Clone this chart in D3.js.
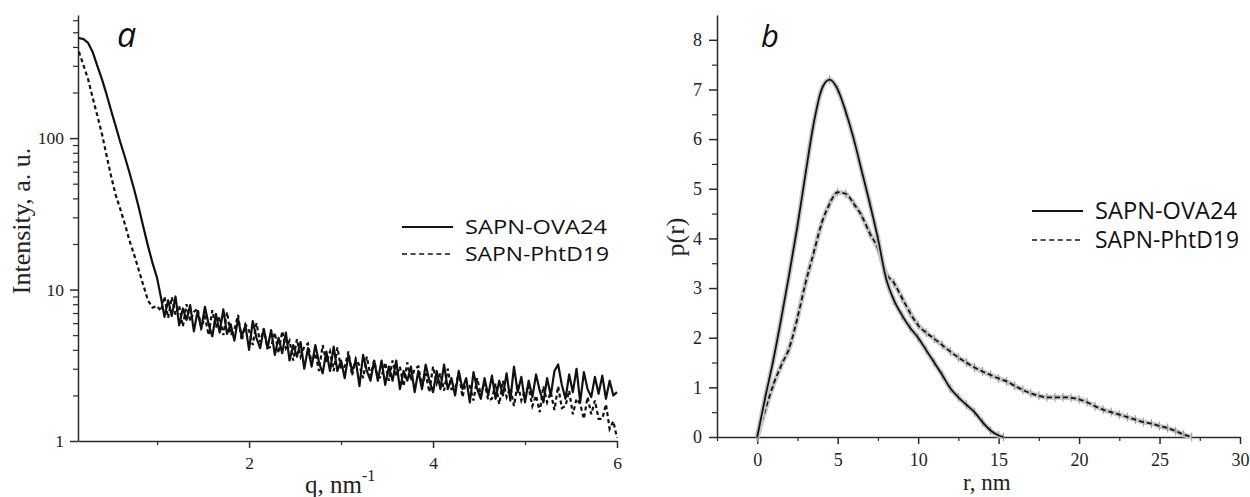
<!DOCTYPE html>
<html>
<head>
<meta charset="utf-8">
<script src="https://cdn.jsdelivr.net/npm/d3@7.9.0/dist/d3.min.js"></script>
<style>
    html, body { margin: 0; padding: 0; background: #fff; }
    svg { display: block; }
    .tick text { font-family: "Liberation Serif", "Times New Roman", serif; fill: #222; }
    .serif { font-family: "Liberation Serif", "Times New Roman", serif; fill: #222; }
    .sans { font-family: "Open Sans", "Noto Sans", sans-serif; fill: #111; }
</style>
</head>
<body>
<svg id="chart" width="1250" height="497"></svg>
<script>
// panel a: SAXS intensity vs q (log scale)
var qA = [0.15, 0.20, 0.25, 0.30, 0.35, 0.40, 0.45, 0.50, 0.55, 0.60, 0.65, 0.70, 0.75, 0.80, 0.85, 0.90, 0.95, 1.00,
    1.04, 1.08, 1.12, 1.16, 1.20, 1.24, 1.28, 1.32, 1.36, 1.40,
    1.44, 1.48, 1.52, 1.56, 1.60, 1.64, 1.68, 1.72, 1.76, 1.80,
    1.84, 1.88, 1.92, 1.96, 2.00, 2.04, 2.08, 2.12, 2.16, 2.20,
    2.24, 2.28, 2.32, 2.36, 2.40, 2.44, 2.48, 2.52, 2.56, 2.60,
    2.64, 2.68, 2.72, 2.76, 2.80, 2.84, 2.88, 2.92, 2.96, 3.00,
    3.04, 3.08, 3.12, 3.16, 3.20, 3.24, 3.28, 3.32, 3.36, 3.40,
    3.44, 3.48, 3.52, 3.56, 3.60, 3.64, 3.68, 3.72, 3.76, 3.80,
    3.84, 3.88, 3.92, 3.96, 4.00, 4.04, 4.08, 4.12, 4.16, 4.20,
    4.24, 4.28, 4.32, 4.36, 4.40, 4.44, 4.48, 4.52, 4.56, 4.60,
    4.64, 4.68, 4.72, 4.76, 4.80, 4.84, 4.88, 4.92, 4.96, 5.00,
    5.04, 5.08, 5.12, 5.16, 5.20, 5.24, 5.28, 5.32, 5.36, 5.40,
    5.44, 5.48, 5.52, 5.56, 5.60, 5.64, 5.68, 5.72, 5.76, 5.80,
    5.84, 5.88, 5.92, 5.96, 6.00]
var iOva = [458, 450, 425, 370, 300, 245, 195, 152, 120, 94, 75, 59, 46, 35, 26, 19.5, 15, 11.9,
    9.0, 6.6, 8.5, 6.7, 9.0, 5.8, 7.5, 6.3, 7.9, 5.3,
    7.2, 5.5, 7.7, 5.9, 4.9, 6.9, 5.2, 7.4, 5.1, 5.9,
    4.6, 6.4, 4.9, 5.8, 4.0, 6.2, 4.8, 4.1, 5.5, 4.1,
    5.4, 3.7, 4.8, 3.8, 5.2, 3.4, 4.3, 3.6, 4.5, 3.0,
    4.1, 3.1, 4.3, 3.3, 2.8, 3.9, 2.9, 4.2, 2.9, 3.4,
    2.6, 3.7, 2.9, 3.4, 2.3, 3.7, 2.9, 2.5, 3.4, 2.5,
    3.4, 2.35, 3.1, 2.5, 3.4, 2.2, 2.9, 2.5, 3.1, 2.1,
    2.9, 2.2, 3.2, 2.5, 2.1, 2.9, 2.2, 3.2, 2.2, 2.6,
    2.0, 2.9, 2.2, 2.6, 1.8, 2.85, 2.2, 1.9, 2.6, 2.0,
    2.7, 1.9, 2.5, 2.0, 2.8, 1.85, 3.1, 2.1, 2.65, 1.8,
    2.5, 1.95, 2.75, 2.15, 1.8, 2.6, 2.0, 2.9, 3.2, 2.35,
    1.9, 2.75, 2.1, 3.0, 1.8, 2.85, 2.2, 1.95, 2.65, 2.05,
    2.7, 1.9, 2.5, 2.0, 2.1]
var iPht = [372, 302, 245, 184, 141, 107, 77, 56, 42, 34, 27, 21, 17, 13.5, 10.7, 8.5, 7.6, 7.8,
    7.2, 9.0, 6.5, 8.9, 6.8, 7.8, 5.7, 8.0, 6.2, 7.1,
    7.5, 5.6, 6.6, 5.0, 7.3, 5.6, 6.6, 5.0, 7.1, 5.0,
    5.4, 6.8, 4.6, 5.9, 5.35, 4.3, 6.0, 4.5, 5.5, 4.1,
    4.2, 5.2, 3.8, 5.3, 4.1, 4.6, 3.4, 4.7, 3.6, 4.2,
    4.4, 3.25, 3.8, 2.9, 4.3, 3.3, 3.9, 2.9, 4.15, 3.0,
    3.1, 3.9, 2.7, 3.5, 3.15, 2.6, 3.6, 2.7, 3.4, 2.6,
    2.65, 3.3, 2.5, 3.4, 2.7, 3.1, 2.3, 3.3, 2.5, 3.0,
    3.1, 2.3, 2.8, 2.1, 3.1, 2.4, 2.8, 2.15, 3.0, 2.2,
    2.2, 2.85, 1.95, 2.5, 2.3, 1.85, 2.6, 2.0, 2.45, 1.85,
    1.9, 2.4, 1.75, 2.5, 1.95, 2.25, 1.7, 2.4, 1.85, 2.15,
    2.25, 1.7, 2.0, 1.55, 2.3, 1.8, 2.1, 1.6, 2.3, 1.65,
    1.7, 2.15, 1.5, 1.9, 1.75, 1.4, 1.95, 1.5, 1.85, 1.4,
    1.4, 1.75, 1.2, 1.35, 1.05]

// panel b: pair distance distribution p(r)
var rOva = [0, 0.5, 1, 1.5, 2, 2.5, 3, 3.5, 4, 4.5, 5, 5.5, 6, 6.5, 7, 7.5, 8, 8.5, 9, 9.5,
    10, 10.5, 11, 11.5, 12, 12.5, 13, 13.5, 14, 14.5, 15, 15.3]
var pOva = [0, 0.8, 1.55, 2.4, 3.3, 4.25, 5.3, 6.3, 7.0, 7.2, 7.0, 6.55, 6.0, 5.35, 4.7, 4.0, 3.2, 2.75, 2.45, 2.2,
    2.0, 1.75, 1.5, 1.25, 0.98, 0.8, 0.65, 0.5, 0.3, 0.13, 0.03, 0]
var rPht = [0, 0.5, 1, 1.5, 2, 2.5, 3, 3.5, 4, 4.5, 5, 5.5, 6, 6.5, 7, 7.5, 8, 8.5, 9, 9.5,
    10, 10.5, 11, 11.5, 12, 12.5, 13, 13.5, 14, 14.5, 15, 15.5, 16, 16.5, 17, 17.5, 18, 18.5, 19, 19.5,
    20, 20.5, 21, 21.5, 22, 22.5, 23, 23.5, 24, 24.5, 25, 25.5, 26, 26.5, 27]
var pPht = [0, 0.55, 1.05, 1.45, 1.8, 2.4, 3.1, 3.7, 4.3, 4.7, 4.93, 4.9, 4.7, 4.45, 4.1, 3.8, 3.3, 3.1, 2.8, 2.5,
    2.25, 2.1, 1.98, 1.85, 1.72, 1.6, 1.5, 1.4, 1.32, 1.25, 1.18, 1.12, 1.03, 0.95, 0.88, 0.83, 0.8, 0.8, 0.8, 0.79,
    0.76, 0.7, 0.62, 0.55, 0.5, 0.45, 0.4, 0.35, 0.3, 0.27, 0.22, 0.18, 0.12, 0.05, 0]

var seriesNames = ['SAPN-OVA24', 'SAPN-PhtD19']

var yMajorA = [1, 10, 100]
var yMinorA = [2, 3, 4, 5, 6, 7, 8, 9, 20, 30, 40, 50, 60, 70, 80, 90, 200, 300, 400, 500, 600]
var xMajorA = [2, 4, 6]
var xMinorA = [1, 3, 5]
var yMajorB = [0, 1, 2, 3, 4, 5, 6, 7, 8]
var yMinorB = [0.5, 1.5, 2.5, 3.5, 4.5, 5.5, 6.5, 7.5]
var xMajorB = [0, 5, 10, 15, 20, 25, 30]
var xMinorB = [-2.5, 2.5, 7.5, 12.5, 17.5, 22.5, 27.5]

;(function () {
    var svg = d3.select('#chart')
    var INK = '#111'
    var AXIS = '#2a2a2a'

    function pts(xs, ys) {
        return xs.map(function (x, i) { return [x, ys[i]] })
    }

    function styleAxis(g, fontSize) {
        g.select('.domain').attr('stroke', AXIS).attr('stroke-width', 1.5)
        g.selectAll('.tick line').attr('stroke', AXIS).attr('stroke-width', 1.5)
        g.selectAll('.tick text').attr('font-size', fontSize)
        g.attr('font-family', null).attr('font-size', null)
    }

    function minor(g) {
        g.select('.domain').remove()
        g.selectAll('.tick line').attr('stroke', AXIS).attr('stroke-width', 1.2)
    }

    // ---------- panel a ----------
    var xA = d3.scaleLinear().domain([0.14, 6]).range([78, 617])
    var yA = d3.scaleLog().domain([1, 650]).range([441, 15])

    svg.append('g').attr('transform', 'translate(78,0)')
        .call(d3.axisLeft(yA).tickValues(yMinorA).tickSize(5).tickFormat(''))
        .call(minor)
    svg.append('g').attr('transform', 'translate(0,441)')
        .call(d3.axisBottom(xA).tickValues(xMinorA).tickSize(4).tickFormat(''))
        .call(minor)
    svg.append('g').attr('transform', 'translate(78,0)')
        .call(d3.axisLeft(yA).tickValues(yMajorA).tickSize(8).tickPadding(6).tickSizeOuter(0).tickFormat(d3.format('d')))
        .call(styleAxis, 17.5)
    svg.append('g').attr('transform', 'translate(0,441)')
        .call(d3.axisBottom(xA).tickValues(xMajorA).tickSize(7).tickPadding(9).tickSizeOuter(0).tickFormat(d3.format('d')))
        .call(styleAxis, 17.5)

    var lineA = d3.line()
        .x(function (d) { return xA(d[0]) })
        .y(function (d) { return yA(d[1]) })

    svg.append('path').datum(pts(qA, iPht)).attr('d', lineA)
        .attr('fill', 'none').attr('stroke', INK).attr('stroke-width', 2.2)
        .attr('stroke-dasharray', '4,3')
    svg.append('path').datum(pts(qA, iOva)).attr('d', lineA)
        .attr('fill', 'none').attr('stroke', INK).attr('stroke-width', 2.2)
        .attr('stroke-linejoin', 'round')

    svg.append('text').attr('class', 'sans').attr('x', 117).attr('y', 47)
        .attr('font-size', 34).attr('font-style', 'italic').text('a')

    svg.append('text').attr('class', 'serif').attr('font-size', 26)
        .attr('transform', 'translate(30,221) rotate(-90)').attr('text-anchor', 'middle')
        .text('Intensity, a. u.')

    var qt = svg.append('text').attr('class', 'serif').attr('font-size', 25)
        .attr('x', 305).attr('y', 493)
    qt.append('tspan').text('q, nm')
    qt.append('tspan').attr('font-size', 16).attr('dy', -12).text('-1')

    // ---------- panel b ----------
    var xB = d3.scaleLinear().domain([-2.5, 30]).range([717, 1240])
    var yB = d3.scaleLinear().domain([0, 8.5]).range([437, 15])

    svg.append('g').attr('transform', 'translate(717,0)')
        .call(d3.axisLeft(yB).tickValues(yMinorB).tickSize(5).tickFormat(''))
        .call(minor)
    svg.append('g').attr('transform', 'translate(0,437)')
        .call(d3.axisBottom(xB).tickValues(xMinorB).tickSize(4).tickFormat(''))
        .call(minor)
    svg.append('g').attr('transform', 'translate(717,0)')
        .call(d3.axisLeft(yB).tickValues(yMajorB).tickSize(8).tickPadding(7).tickSizeOuter(0).tickFormat(d3.format('d')))
        .call(styleAxis, 18)
    svg.append('g').attr('transform', 'translate(0,437)')
        .call(d3.axisBottom(xB).tickValues(xMajorB).tickSize(7).tickPadding(9).tickSizeOuter(0).tickFormat(d3.format('d')))
        .call(styleAxis, 18)

    var lineB = d3.line()
        .curve(d3.curveMonotoneX)
        .x(function (d) { return xB(d[0]) })
        .y(function (d) { return yB(d[1]) })

    function drawPr(data, dash) {
        var g = svg.append('g')
        g.append('path').datum(data).attr('d', lineB)
            .attr('fill', 'none').attr('stroke', '#c8c8c8').attr('stroke-width', 5)
        g.selectAll('line.err').data(data).join('line').attr('class', 'err')
            .attr('x1', function (d) { return xB(d[0]) })
            .attr('x2', function (d) { return xB(d[0]) })
            .attr('y1', function (d) { return yB(d[1]) - 4.5 })
            .attr('y2', function (d) { return yB(d[1]) + 4.5 })
            .attr('stroke', '#999').attr('stroke-width', 1)
        var p = g.append('path').datum(data).attr('d', lineB)
            .attr('fill', 'none').attr('stroke', INK).attr('stroke-width', 1.8)
        if (dash) p.attr('stroke-dasharray', dash)
    }
    drawPr(pts(rPht, pPht), '5,3')
    drawPr(pts(rOva, pOva), null)

    svg.append('text').attr('class', 'sans').attr('x', 761).attr('y', 47)
        .attr('font-size', 31).attr('font-style', 'italic').text('b')

    svg.append('text').attr('class', 'serif').attr('font-size', 26)
        .attr('transform', 'translate(684,237) rotate(-90)').attr('text-anchor', 'middle')
        .text('p(r)')

    svg.append('text').attr('class', 'serif').attr('font-size', 23)
        .attr('x', 963).attr('y', 490).text('r, nm')

    // ---------- legends ----------
    var legendWidths = [142, 144]
    function legend(x, y, gap, size) {
        seriesNames.forEach(function (name, i) {
            var yy = y + i * gap
            svg.append('line').attr('x1', x).attr('x2', x + 51).attr('y1', yy).attr('y2', yy)
                .attr('stroke', INK).attr('stroke-width', i === 0 ? 2 : 1.6)
                .attr('stroke-dasharray', i === 0 ? null : '5,3.6')
            svg.append('text').attr('class', 'sans').attr('font-size', size)
                .attr('x', x + 63).attr('y', yy).attr('dy', '0.36em')
                .attr('textLength', legendWidths[i]).attr('lengthAdjust', 'spacingAndGlyphs')
                .text(name)
        })
    }
    legend(402, 227, 27, 20.5)
    legend(1032, 211, 29, 23)
})()
</script>
</body>
</html>
